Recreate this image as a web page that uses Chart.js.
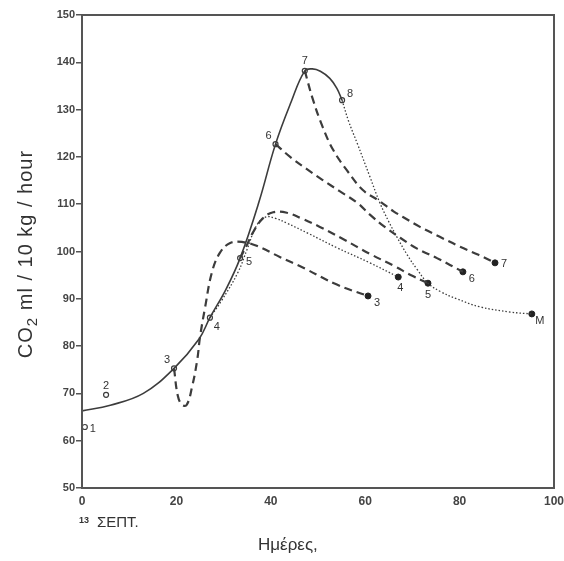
<!DOCTYPE html>
<html>
<head>
<meta charset="utf-8">
<script src="https://cdn.jsdelivr.net/npm/chart.js@4/dist/chart.umd.min.js"></script>
<style>
  html, body { margin: 0; padding: 0; background: #fff; }
  #wrap { width: 564px; height: 561px; }
</style>
</head>
<body>
<div id="wrap"><canvas id="myChart" width="564" height="561"></canvas></div>
<script>
// main curve (solid)
const solidX = [0, 6, 13, 19.5, 24.8, 27.1, 30.5, 33.5, 37.5, 41, 44.3, 47.2, 48.8, 50.5, 52.5, 54, 55.1];
const solidY = [66.3, 67.5, 70, 75.3, 81.5, 86, 92, 98.6, 110.5, 122.7, 131.6, 138.2, 138.6, 138.1, 136.6, 134.5, 132];

// curve 3 (dashed)
const c3X = [19.5, 20.3, 21.2, 22.2, 23.3, 24.4, 25, 26.1, 27.5, 29.2, 31.4, 34.1, 37, 42, 47, 54, 60.6];
const c3Y = [75.3, 69.5, 67.6, 67.6, 71.3, 77, 81.9, 88.3, 95.5, 99.7, 101.8, 102, 101.2, 98.8, 96.5, 93, 90.6];

// curve 4 (dotted)
const c4X = [27.1, 29.5, 33, 35, 37, 39, 41, 43.4, 48, 54, 61, 67];
const c4Y = [86, 89.5, 95.5, 100.5, 105.5, 107.3, 107, 106, 103.8, 100.8, 97.6, 94.6];

// curve 5 (dashed)
const c5X = [33.5, 35, 36.2, 38.3, 40.5, 43.4, 46.5, 50.4, 55, 61, 66, 70.1, 73.3];
const c5Y = [98.6, 101.5, 104, 107, 108.3, 108.2, 107, 105.2, 102.8, 99.5, 97, 94.8, 93.3];

// curve 6 (dashed)
const c6X = [41, 44.1, 47.5, 51, 54.5, 58.3, 61, 64, 67.4, 71, 75.2, 80.7];
const c6Y = [122.7, 120, 117.5, 115.1, 112.8, 110.3, 107.8, 105.3, 102.9, 100.6, 98.6, 95.7];

// curve 7 (dashed)
const c7X = [47.2, 48.9, 51, 53.2, 56.1, 59.5, 62.8, 66, 68, 71.6, 75.8, 80.1, 84, 87.5];
const c7Y = [138.2, 132.2, 126.3, 121.5, 117.2, 113, 110.8, 108.5, 107.3, 105.2, 103.1, 101, 99.3, 97.6];

// curve 8 (dotted)
const c8X = [55.1, 56.5, 58.3, 61, 63.1, 65, 66.7, 68.9, 71, 73.3, 76, 79.4, 84.3, 90.7, 95.3];
const c8Y = [132, 127.5, 122.9, 115.8, 110.3, 106.3, 103.1, 99.3, 96.2, 93.3, 91.5, 90, 88.3, 87.2, 86.8];

// open circles 1..8
const openLabels = ['1', '2', '3', '4', '5', '6', '7', '8'];
const openX = [0.6, 5.1, 19.5, 27.1, 33.5, 41, 47.2, 55.1];
const openY = [62.9, 69.7, 75.3, 86, 98.6, 122.7, 138.2, 132];

// end points (filled)
const endLabels = ['3', '4', '5', '6', '7', 'M'];
const endX = [60.6, 67, 73.3, 80.7, 87.5, 95.3];
const endY = [90.6, 94.6, 93.3, 95.7, 97.6, 86.8];

const xTicks = [0, 20, 40, 60, 80, 100];

function pts(xs, ys) {
  return xs.map((x, i) => ({ x: x, y: ys[i] }));
}

const ink = '#3c3c3c';

function curve(xs, ys, dash, width) {
  return {
    data: pts(xs, ys),
    showLine: true,
    borderColor: ink,
    borderWidth: width,
    borderDash: dash,
    pointRadius: 0,
    tension: 0.4,
    fill: false
  };
}

const labelOffsets = {
  open: [[8, 2], [0, -9], [-7, -8], [7, 9], [9, 4], [-7, -8], [0, -10], [8, -6]],
  end: [[9, 7], [2, 11], [0, 12], [9, 7], [9, 1], [8, 7]]
};

const decor = {
  id: 'decor',
  afterDraw(chart) {
    const ctx = chart.ctx;
    const a = chart.chartArea;
    const xs = chart.scales.x, ys = chart.scales.y;
    ctx.save();
    // frame
    ctx.strokeStyle = '#555';
    ctx.lineWidth = 2;
    ctx.strokeRect(a.left, a.top, a.right - a.left, a.bottom - a.top);

    // point labels
    ctx.fillStyle = '#333';
    ctx.font = '11px "Liberation Sans", Arial, sans-serif';
    ctx.textAlign = 'center';
    ctx.textBaseline = 'middle';
    openLabels.forEach((t, i) => {
      const o = labelOffsets.open[i];
      ctx.fillText(t, xs.getPixelForValue(openX[i]) + o[0], ys.getPixelForValue(openY[i]) + o[1]);
    });
    endLabels.forEach((t, i) => {
      const o = labelOffsets.end[i];
      ctx.fillText(t, xs.getPixelForValue(endX[i]) + o[0], ys.getPixelForValue(endY[i]) + o[1]);
    });

    // y title with subscript
    ctx.translate(25, 254);
    ctx.rotate(-Math.PI / 2);
    ctx.fillStyle = '#333';
    ctx.textAlign = 'left';
    ctx.textBaseline = 'alphabetic';
    ctx.letterSpacing = '1px';
    const big = '20px "Liberation Sans", Arial, sans-serif';
    const small = '15px "Liberation Sans", Arial, sans-serif';
    ctx.font = big;
    const w1 = ctx.measureText('CO').width;
    const w3 = ctx.measureText(' ml / 10 kg / hour').width;
    ctx.font = small;
    const w2 = ctx.measureText('2').width;
    let x0 = -(w1 + w2 + w3) / 2;
    ctx.font = big;
    ctx.fillText('CO', x0, 7);
    ctx.font = small;
    ctx.fillText('2', x0 + w1, 12);
    ctx.font = big;
    ctx.fillText(' ml / 10 kg / hour', x0 + w1 + w2, 7);
    ctx.restore();

    // bottom texts
    ctx.save();
    ctx.fillStyle = '#333';
    ctx.textBaseline = 'middle';
    ctx.textAlign = 'left';
    ctx.font = 'bold 9px "Liberation Sans", Arial, sans-serif';
    ctx.fillText('13', 79, 521);
    ctx.font = '15px "Liberation Sans", Arial, sans-serif';
    ctx.fillText('ΣΕΠΤ.', 97, 523);
    ctx.font = '17px "Liberation Sans", Arial, sans-serif';
    ctx.fillText('Ημέρες,', 258, 545);
    ctx.restore();
  }
};

window.addEventListener('load', setup);

function setup() {
  const ctx = document.getElementById('myChart').getContext('2d');
  new Chart(ctx, {
    type: 'scatter',
    data: {
      datasets: [
        curve(solidX, solidY, [], 1.6),
        curve(c3X, c3Y, [8, 5], 2.2),
        curve(c4X, c4Y, [1.5, 2], 1.3),
        curve(c5X, c5Y, [8, 5], 2.2),
        curve(c6X, c6Y, [8, 5], 2.2),
        curve(c7X, c7Y, [8, 5], 2.2),
        curve(c8X, c8Y, [1.5, 2], 1.3),
        {
          data: pts(openX, openY),
          pointRadius: 2.5,
          pointBackgroundColor: '#fff',
          pointBorderColor: ink,
          pointBorderWidth: 1.2,
          showLine: false
        },
        {
          data: pts(endX, endY),
          pointRadius: 3,
          pointBackgroundColor: '#222',
          pointBorderColor: '#222',
          showLine: false
        }
      ]
    },
    options: {
      responsive: false,
      animation: false,
      events: [],
      layout: { padding: { left: 0, right: 10, top: 15, bottom: 0 } },
      plugins: { legend: { display: false }, tooltip: { enabled: false } },
      scales: {
        x: {
          type: 'linear',
          min: 0, max: 100,
          afterBuildTicks: (s) => { s.ticks = xTicks.map(v => ({ value: v })); },
          afterFit: (s) => { s.height = 73; s.paddingRight = 0; s.paddingLeft = 0; },
          grid: { display: true, drawOnChartArea: false, drawTicks: false, color: '#555' },
          border: { display: false },
          ticks: { padding: 6, color: '#444', font: { family: '"Liberation Sans", Arial, sans-serif', size: 12, weight: 'bold' } }
        },
        y: {
          min: 50, max: 150,
          afterFit: (s) => { s.width = 82; s.paddingTop = 0; s.paddingBottom = 0; },
          grid: { display: true, drawOnChartArea: false, drawTicks: true, tickLength: 6, color: '#555', lineWidth: 1.5 },
          border: { display: false },
          ticks: { stepSize: 10, padding: 1, color: '#444', font: { family: '"Liberation Sans", Arial, sans-serif', size: 11, weight: 'bold' } }
        }
      }
    },
    plugins: [decor]
  });
}
</script>
</body>
</html>
